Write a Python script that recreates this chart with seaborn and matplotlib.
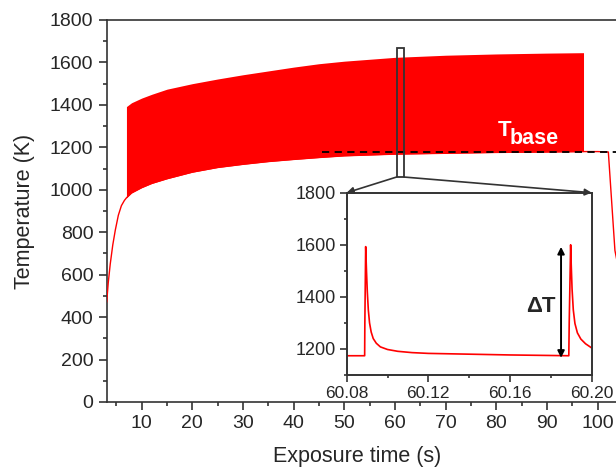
import numpy as np
import matplotlib
matplotlib.use("Agg")
import matplotlib.pyplot as plt
import seaborn as sns
from matplotlib.patches import Rectangle, ConnectionPatch
from matplotlib.ticker import MultipleLocator, FormatStrFormatter

# ------------------------------------------------------------
# data
# ------------------------------------------------------------
# thin trace: warm-up, base of the pulse train, cool-down
trace_time = [3.1, 3.4, 3.8, 4.3, 4.8, 5.4, 6.0, 6.6, 7.0, 8.0, 10, 12, 15, 20,
              25, 30, 35, 40, 45, 50, 60, 70, 80, 90, 97.2, 100, 102.1, 103.4, 105, 108]
trace_temp = [470, 560, 650, 740, 810, 880, 925, 950, 962, 985, 1010, 1030, 1052, 1083,
              1105, 1120, 1133, 1143, 1152, 1160, 1168, 1172, 1176, 1178, 1180, 1180, 1178, 714, 520, 400]

# envelope of the laser pulse train (base / peak temperature)
band_time = [7.0, 8.0, 10, 12, 15, 20, 25, 30, 35, 40, 45, 50, 60, 70, 80, 90, 97.2]
band_low = [962, 985, 1010, 1030, 1052, 1083, 1105, 1120, 1133, 1143, 1152, 1160, 1168, 1172, 1176, 1178, 1180]
band_high = [1392, 1410, 1432, 1450, 1474, 1500, 1522, 1542, 1560, 1578, 1594, 1606, 1624, 1634, 1640, 1644, 1646]

# zoom on two single pulses
inset_time = [60.0800, 60.0888, 60.0889, 60.0893, 60.0897, 60.0901, 60.0906, 60.0912,
              60.0920, 60.0930, 60.0945, 60.0965, 60.1000, 60.1050, 60.1120, 60.1200,
              60.1400, 60.1600, 60.1800, 60.1888,
              60.1890, 60.1897, 60.1900, 60.1904, 60.1910, 60.1918, 60.1930, 60.1947,
              60.1970, 60.2000]
inset_temp = [1174, 1174, 1300, 1593, 1500, 1420, 1350, 1300,
              1265, 1240, 1222, 1208, 1198, 1191, 1186, 1183,
              1180, 1177, 1175, 1174,
              1300, 1600, 1520, 1430, 1350, 1298, 1262, 1238,
              1220, 1204]

t_base = 1180
t_base_start = 45.6
delta_t_time = 60.185
delta_t_low, delta_t_high = 1166, 1592

zoom_box_time = (60.3, 61.8)
zoom_box_temp = (1060, 1667)

# ------------------------------------------------------------
sns.set_style("ticks")
plt.rcParams["font.family"] = ["Liberation Sans", "DejaVu Sans"]
dark = "#333333"

fig = plt.figure(figsize=(6.16, 4.75), dpi=100)
ax = fig.add_axes([0.1732, 0.1537, 0.8629, 0.8042])

ax.fill_between(band_time, band_low, band_high, color="#ff0000", lw=0, zorder=2)
sns.lineplot(x=trace_time, y=trace_temp, ax=ax, color="#ff0000", lw=1.0, zorder=3)
ax.hlines(t_base, t_base_start, 108, colors="black", linestyles=(0, (4, 3)), lw=1.3, zorder=4)

ax.text(80.3, 1255, "T", color="white", fontsize=16, fontweight="bold", va="baseline", zorder=5)
ax.text(82.6, 1214, "base", color="white", fontsize=15.5, fontweight="bold", va="baseline", zorder=5)

ax.add_patch(Rectangle((zoom_box_time[0], zoom_box_temp[0]),
                       zoom_box_time[1] - zoom_box_time[0],
                       zoom_box_temp[1] - zoom_box_temp[0],
                       fill=False, ec=dark, lw=1.3, zorder=6))

ax.set_xlim(3.1, 108)
ax.set_ylim(0, 1800)
ax.xaxis.set_minor_locator(MultipleLocator(5))
ax.yaxis.set_major_locator(MultipleLocator(200))
ax.yaxis.set_minor_locator(MultipleLocator(100))
ax.set_xticks(np.arange(10, 101, 10))
ax.tick_params(which="major", length=5.5, width=1.2, color=dark, labelsize=14, pad=4)
ax.tick_params(which="minor", length=2.8, width=1.2, color=dark)
for s in ax.spines.values():
    s.set_color(dark)
    s.set_linewidth(1.2)

ax.set_xlabel("Exposure time (s)", fontsize=15.5)
ax.set_ylabel("Temperature (K)", fontsize=15.5)
ax.xaxis.set_label_coords(0.471, -0.115)
ax.yaxis.set_label_coords(-0.135, 0.5)

# ------------------------------------------------------------
# inset
ins = fig.add_axes([0.5628, 0.2105, 0.3977, 0.3838])
sns.lineplot(x=inset_time, y=inset_temp, ax=ins, color="#ff0000", lw=1.2, sort=False)
ins.set_xlim(60.08, 60.20)
ins.set_ylim(1100, 1800)
ins.set_xticks([60.08, 60.12, 60.16, 60.20])
ins.xaxis.set_minor_locator(MultipleLocator(0.02))
ins.xaxis.set_major_formatter(FormatStrFormatter("%.2f"))
ins.yaxis.set_major_locator(MultipleLocator(200))
ins.yaxis.set_minor_locator(MultipleLocator(100))
ins.tick_params(which="major", length=5, width=1.2, color=dark, labelsize=12.5, pad=3)
ins.tick_params(axis="y", which="major", labelsize=13)
ins.tick_params(which="minor", length=2.5, width=1.2, color=dark)
for s in ins.spines.values():
    s.set_color(dark)
    s.set_linewidth(1.4)

ins.annotate("", xy=(delta_t_time, delta_t_high), xytext=(delta_t_time, delta_t_low),
             arrowprops=dict(arrowstyle="<|-|>", color="black", lw=1.4,
                             mutation_scale=10, shrinkA=0, shrinkB=0))
ins.text(60.1749, 1363, "\u0394T", fontsize=16, fontweight="bold", ha="center", va="center")

for xa, xb in [(zoom_box_time[0], 60.08), (zoom_box_time[1], 60.20)]:
    con = ConnectionPatch(xyA=(xa, zoom_box_temp[0]), coordsA=ax.transData,
                          xyB=(xb, 1800), coordsB=ins.transData,
                          arrowstyle="-|>", color=dark, lw=1.2, mutation_scale=10,
                          shrinkA=0, shrinkB=0)
    fig.add_artist(con)

fig.savefig("out.png", dpi=100)
